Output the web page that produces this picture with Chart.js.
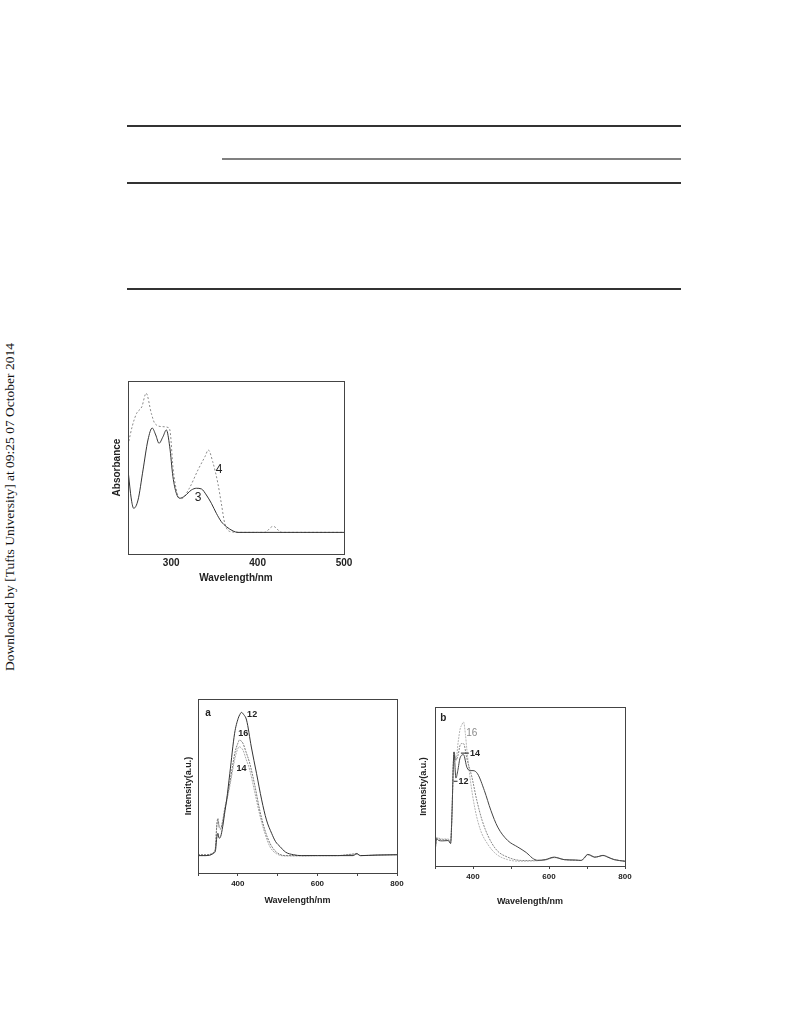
<!DOCTYPE html>
<html>
<head>
<meta charset="utf-8">
<script src="https://cdn.jsdelivr.net/npm/chart.js"></script>
<style>
  body { margin: 0; background: #fff; width: 792px; height: 1032px; position: relative; overflow: hidden; }
  canvas { position: absolute; }
  .rule { position: absolute; height: 1px; background: #333; }
  #side { position: absolute; left: 10px; top: 507px; transform: translate(-50%, -50%) rotate(-90deg);
          font: 13.5px "Liberation Serif", "Times New Roman", serif; color: #111; white-space: nowrap; }
</style>
</head>
<body>
<div class="rule" style="left:127px;top:125px;width:554px;height:1.5px"></div>
<div class="rule" style="left:222px;top:158px;width:459px;height:2px;background:#808080"></div>
<div class="rule" style="left:127px;top:182px;width:554px;height:1.5px"></div>
<div class="rule" style="left:127px;top:288px;width:554px;height:1.5px"></div>
<div id="side">Downloaded by [Tufts University] at 09:25 07 October 2014</div>

<canvas id="abs" width="260" height="225" style="left:100px;top:370px"></canvas>
<canvas id="pla" width="230" height="220" style="left:178px;top:690px"></canvas>
<canvas id="plb" width="224" height="215" style="left:413px;top:697px"></canvas>

<script>
// absorption spectra (wavelength nm, relative absorbance)
const absWl3 = [250, 254, 256.6, 261.6, 267.4, 273.1, 278, 282.1, 285.9, 290.5, 294.4, 298.3, 302, 306, 309.8, 315.6, 323.4, 329.2, 335, 340.7, 346.5, 352.3, 358, 363.9, 371.6, 377.3, 400, 450, 500];
const abs3   = [0.486, 0.312, 0.264, 0.312, 0.486, 0.659, 0.728, 0.688, 0.64, 0.678, 0.717, 0.62, 0.447, 0.35, 0.322, 0.335, 0.37, 0.38, 0.376, 0.341, 0.293, 0.235, 0.187, 0.158, 0.133, 0.125, 0.125, 0.125, 0.125];
const absWl4 = [250, 255, 260, 266, 271, 277, 281, 290, 297, 299, 302, 307, 312, 321, 331, 339, 343, 348, 354, 358, 362, 368, 380, 408, 418, 428, 450, 500];
const abs4   = [0.63, 0.74, 0.813, 0.851, 0.929, 0.813, 0.755, 0.736, 0.73, 0.70, 0.505, 0.35, 0.32, 0.38, 0.486, 0.562, 0.601, 0.534, 0.409, 0.293, 0.177, 0.13, 0.125, 0.125, 0.16, 0.125, 0.125, 0.125];
const absTicks = [300, 400, 500];

// emission spectra (a)
const aWl12 = [300, 320, 340, 344, 347, 350, 353, 357, 362, 368, 372, 380, 392, 401, 405, 409, 415, 422, 434, 447, 460, 472, 485, 495, 506, 520, 540, 560, 600, 650, 690, 699, 708, 750, 800];
const a12   = [0.10, 0.10, 0.115, 0.13, 0.2, 0.228, 0.2, 0.21, 0.266, 0.36, 0.42, 0.573, 0.803, 0.889, 0.91, 0.923, 0.91, 0.879, 0.724, 0.573, 0.42, 0.305, 0.228, 0.18, 0.152, 0.12, 0.105, 0.10, 0.10, 0.10, 0.10, 0.112, 0.10, 0.103, 0.105];
const aWl16 = [300, 320, 340, 344, 347, 350, 353, 357, 362, 368, 372, 380, 393, 400, 404, 408, 413, 420, 430, 443, 455, 468, 481, 497, 520, 560, 600, 650, 699, 708, 750, 800];
const a16   = [0.105, 0.105, 0.12, 0.15, 0.27, 0.314, 0.27, 0.257, 0.3, 0.38, 0.42, 0.52, 0.693, 0.745, 0.764, 0.76, 0.745, 0.7, 0.63, 0.5, 0.362, 0.247, 0.17, 0.12, 0.1, 0.1, 0.1, 0.1, 0.11, 0.1, 0.103, 0.105];
const aWl14 = aWl16;
const a14   = [0.1, 0.1, 0.118, 0.145, 0.26, 0.3, 0.26, 0.25, 0.29, 0.37, 0.41, 0.5, 0.66, 0.715, 0.726, 0.72, 0.707, 0.66, 0.592, 0.46, 0.336, 0.228, 0.15, 0.111, 0.098, 0.098, 0.1, 0.1, 0.108, 0.1, 0.103, 0.105];

// emission spectra (b)
const bWl12 = [300, 304, 310, 320, 335, 341, 345, 348, 350, 355, 360, 366, 375, 384, 393, 400, 412, 430, 447, 465, 491, 518, 540, 548, 556, 570, 590, 614, 625, 640, 670, 684, 693, 702, 712, 720, 731, 742, 755, 772, 800];
const b12   = [0.078, 0.172, 0.16, 0.158, 0.16, 0.141, 0.35, 0.623, 0.717, 0.553, 0.6, 0.68, 0.7, 0.62, 0.6, 0.6, 0.58, 0.474, 0.35, 0.245, 0.161, 0.119, 0.085, 0.068, 0.05, 0.036, 0.04, 0.056, 0.05, 0.04, 0.038, 0.035, 0.05, 0.073, 0.065, 0.056, 0.06, 0.067, 0.055, 0.04, 0.03];
const bWl16 = [300, 304, 310, 320, 335, 341, 345, 348, 350, 355, 361, 366, 371, 375, 380, 384, 393, 406, 420, 438, 460, 491, 526, 560, 590, 614, 640, 684, 702, 720, 742, 772, 800];
const b16   = [0.08, 0.18, 0.175, 0.17, 0.17, 0.15, 0.36, 0.63, 0.72, 0.665, 0.78, 0.86, 0.89, 0.906, 0.83, 0.728, 0.54, 0.35, 0.224, 0.14, 0.077, 0.04, 0.03, 0.032, 0.038, 0.052, 0.04, 0.035, 0.07, 0.055, 0.065, 0.04, 0.03];
const bWl14 = [300, 304, 310, 320, 335, 341, 345, 348, 350, 355, 361, 366, 371, 375, 384, 397, 410, 424, 441, 463, 491, 526, 560, 590, 614, 640, 684, 702, 720, 742, 772, 800];
const b14   = [0.08, 0.175, 0.17, 0.165, 0.165, 0.145, 0.355, 0.625, 0.715, 0.665, 0.7, 0.76, 0.77, 0.77, 0.675, 0.56, 0.413, 0.287, 0.182, 0.098, 0.056, 0.035, 0.034, 0.038, 0.054, 0.04, 0.035, 0.072, 0.055, 0.066, 0.04, 0.03];
const plTicks = [300, 400, 500, 600, 700, 800];
const plLabels = [400, 600, 800];

Chart.defaults.font.family = '"Liberation Sans", Arial, sans-serif';
Chart.defaults.color = '#222';

const pts = (xs, ys) => xs.map((x, i) => ({ x: x, y: ys[i] }));

// frame round the plot area + text notes placed in data units
const framePlugin = {
  id: 'frame',
  afterDraw(chart, args, opts) {
    const a = chart.chartArea, ctx = chart.ctx;
    ctx.save();
    ctx.strokeStyle = '#444';
    ctx.lineWidth = 1;
    ctx.strokeRect(Math.round(a.left) + 0.5, Math.round(a.top) + 0.5, Math.round(a.width), Math.round(a.height));
    ctx.textAlign = 'center';
    ctx.textBaseline = 'middle';
    (opts.notes || []).forEach(n => {
      ctx.font = n.font;
      ctx.fillStyle = n.color || '#222';
      const px = chart.scales.x.getPixelForValue(n.x), py = chart.scales.y.getPixelForValue(n.y);
      ctx.fillText(n.text, px, py);
      if (n.lead) {
        ctx.strokeStyle = n.color || '#222';
        ctx.beginPath();
        ctx.moveTo(px + n.lead[0], py);
        ctx.lineTo(px + n.lead[1], py);
        ctx.stroke();
      }
    });
    ctx.restore();
  }
};

function line(data, color, dash) {
  return { data: data, borderColor: color, borderWidth: 1, borderDash: dash || [], pointRadius: 0,
           cubicInterpolationMode: 'monotone', fill: false };
}

function spectrum(id, o) {
  return new Chart(document.getElementById(id), {
    type: 'scatter',
    data: { datasets: o.sets.map(s => Object.assign(s, { showLine: true })) },
    options: {
      responsive: false, animation: false, devicePixelRatio: 1,
      layout: { padding: o.pad },
      plugins: { legend: { display: false }, tooltip: { enabled: false }, frame: { notes: o.notes } },
      scales: {
        x: {
          type: 'linear', min: o.xMin, max: o.xMax,
          afterBuildTicks: s => { s.ticks = o.ticks.map(v => ({ value: v })); },
          afterFit: s => { s.height = o.xH; },
          ticks: { autoSkip: false, maxRotation: 0, padding: o.tickPad, font: { size: o.tickSize, weight: 'bold' },
                   callback: v => o.labels.includes(v) ? String(v) : '' },
          grid: { display: o.tickLen > 0, drawOnChartArea: false, tickLength: o.tickLen, color: '#444' },
          border: { display: false },
          title: { display: true, text: 'Wavelength/nm', font: { size: o.titleSize, weight: 'bold' },
                   padding: { top: 0, bottom: o.xTitlePad } }
        },
        y: {
          min: 0, max: 1,
          afterFit: s => { s.width = o.yW; },
          ticks: { display: false },
          grid: { display: false },
          border: { display: false },
          title: { display: true, text: o.yTitle, font: { size: o.titleSize, weight: 'bold' },
                   padding: { top: o.yTitlePad, bottom: 0 } }
        }
      }
    },
    plugins: [framePlugin]
  });
}

spectrum('abs', {
  sets: [line(pts(absWl3, abs3), '#333'), line(pts(absWl4, abs4), '#8a8a8a', [2, 2])],
  xMin: 250, xMax: 500, ticks: absTicks, labels: absTicks,
  pad: { top: 11, right: 16, left: 0, bottom: 0 }, xH: 41, yW: 28,
  tickPad: 3, tickSize: 10, tickLen: 0, titleSize: 10, xTitlePad: 11, yTitlePad: 11,
  yTitle: 'Absorbance',
  notes: [{ text: '4', x: 355.3, y: 0.486, font: '12px "Liberation Sans"' },
          { text: '3', x: 331, y: 0.325, font: '12px "Liberation Sans"' }]
});

spectrum('pla', {
  sets: [line(pts(aWl12, a12), '#333'), line(pts(aWl16, a16), '#777', [2, 1]), line(pts(aWl14, a14), '#aaa', [2, 1])],
  xMin: 300, xMax: 800, ticks: plTicks, labels: plLabels,
  pad: { top: 9, right: 11, left: 0, bottom: 0 }, xH: 37, yW: 20,
  tickPad: 3, tickSize: 8, tickLen: 3, titleSize: 9, xTitlePad: 4, yTitlePad: 5,
  yTitle: 'Intensity(a.u.)',
  notes: [{ text: 'a', x: 325, y: 0.92, font: 'bold 10px "Liberation Sans"' },
          { text: '12', x: 436, y: 0.908, font: 'bold 9px "Liberation Sans"' },
          { text: '16', x: 413.4, y: 0.803, font: 'bold 9px "Liberation Sans"' },
          { text: '14', x: 409.4, y: 0.602, font: 'bold 9px "Liberation Sans"' }]
});

spectrum('plb', {
  sets: [line(pts(bWl12, b12), '#444'), line(pts(bWl14, b14), '#888', [2, 1]), line(pts(bWl16, b16), '#b5b5b5', [2, 1])],
  xMin: 300, xMax: 800, ticks: plTicks, labels: plLabels,
  pad: { top: 10, right: 12, left: 0, bottom: 0 }, xH: 46, yW: 22,
  tickPad: 3, tickSize: 8, tickLen: 3, titleSize: 9, xTitlePad: 5, yTitlePad: 5,
  yTitle: 'Intensity(a.u.)',
  notes: [{ text: 'b', x: 321.8, y: 0.927, font: 'bold 10px "Liberation Sans"' },
          { text: '16', x: 396.6, y: 0.836, font: '10px "Liberation Sans"', color: '#888' },
          { text: '14', x: 405, y: 0.71, font: 'bold 9px "Liberation Sans"', lead: [-14, -6] },
          { text: '12', x: 375, y: 0.533, font: 'bold 9px "Liberation Sans"', lead: [-10, -6] }]
});
</script>
</body>
</html>
